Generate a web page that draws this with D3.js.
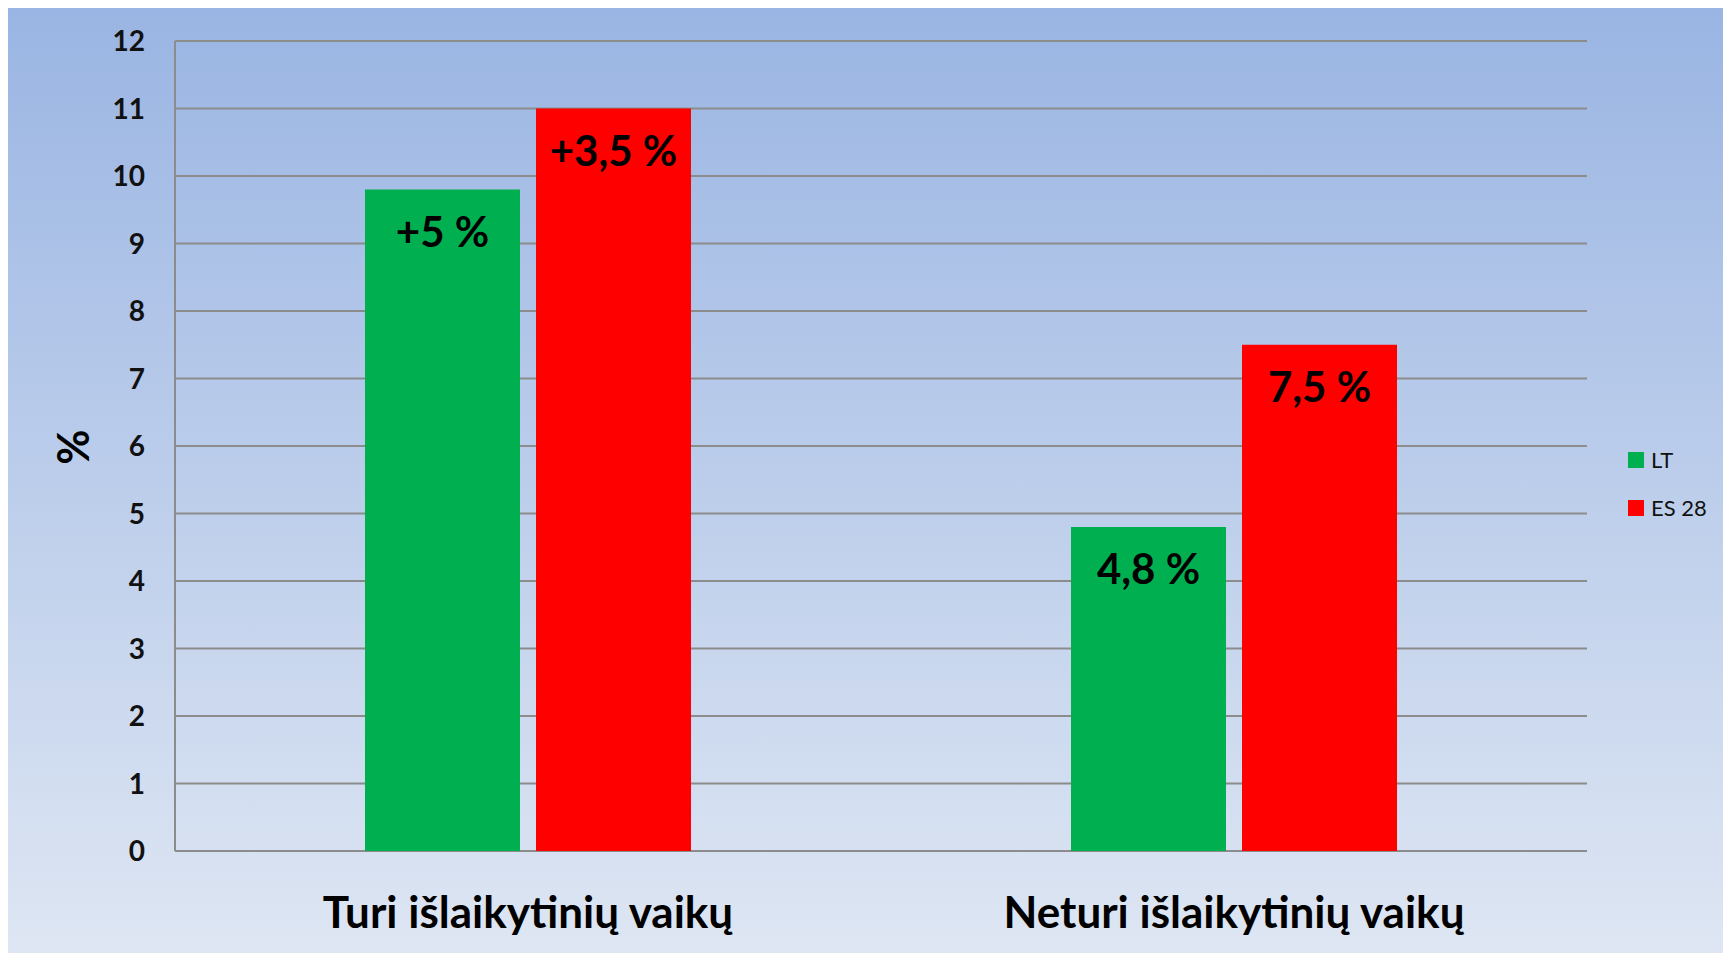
<!DOCTYPE html>
<html><head><meta charset="utf-8">
<script src="https://cdn.jsdelivr.net/npm/d3@7"></script>
<style>body{margin:0;background:#fff;overflow:hidden}svg{display:block}</style>
</head><body>
<svg id="c" width="1723" height="953"></svg>
<script>
const categories = ["Turi išlaikytinių vaikų", "Neturi išlaikytinių vaikų"];
const series = ["LT", "ES 28"];
const ltValues = [9.8, 4.8];
const es28Values = [11, 7.5];
const ltLabels = ["+5 %", "4,8 %"];
const es28Labels = ["+3,5 %", "7,5 %"];
const yTicks = [0,1,2,3,4,5,6,7,8,9,10,11,12];
const colors = {"LT": "#00B050", "ES 28": "#FF0000"};

const svg = d3.select("#c");
const W = 1723, H = 953;
const defs = svg.append("defs");
const g = defs.append("linearGradient").attr("id","bg").attr("x1",0).attr("y1",0).attr("x2",0).attr("y2",1);
g.append("stop").attr("offset","0%").attr("stop-color","#9AB5E3");
g.append("stop").attr("offset","100%").attr("stop-color","#DEE6F3");
svg.append("rect").attr("x",8).attr("y",8).attr("width",W-8).attr("height",H-8).attr("fill","url(#bg)");

const m = {left:175, right:1587, top:41, bottom:851};
const y = d3.scaleLinear().domain([0,12]).range([m.bottom, m.top]);
const x0 = d3.scaleBand().domain(categories).range([m.left, m.right]).padding(0);
const x1 = d3.scaleBand().domain(series).range([0, x0.bandwidth()]).paddingInner(0.0936).paddingOuter(1.111);

const font = "Lato, 'Open Sans', sans-serif";

// gridlines
svg.append("g").selectAll("line").data(yTicks).join("line")
  .attr("x1", m.left).attr("x2", m.right)
  .attr("y1", d=>y(d)).attr("y2", d=>y(d))
  .attr("stroke","#8C8C8C").attr("stroke-width",2);
// left axis line
svg.append("line").attr("x1",m.left).attr("x2",m.left).attr("y1",m.top).attr("y2",m.bottom)
  .attr("stroke","#8C8C8C").attr("stroke-width",2);

// tick labels
svg.append("g").selectAll("text").data(yTicks).join("text")
  .attr("x", 145).attr("y", d=>y(d)).attr("dy","0.36em")
  .attr("text-anchor","end").attr("font-family",font).attr("font-weight","bold")
  .attr("font-size",28).attr("fill","#111").text(d=>d);

// y title
svg.append("text").attr("transform","translate(89,447) rotate(-90)")
  .attr("text-anchor","middle").attr("font-family",font).attr("font-weight","bold")
  .attr("font-size",43).attr("fill","#000").text("%");

const data = [];
categories.forEach((c,i)=>{
  data.push({cat:c, s:"LT", v:ltValues[i], label:ltLabels[i]});
  data.push({cat:c, s:"ES 28", v:es28Values[i], label:es28Labels[i]});
});

const bars = svg.append("g").selectAll("g").data(data).join("g");
bars.append("rect")
  .attr("x", d=>x0(d.cat)+x1(d.s)).attr("width", x1.bandwidth())
  .attr("y", d=>y(d.v)).attr("height", d=>y(0)-y(d.v))
  .attr("fill", d=>colors[d.s]);
bars.append("text")
  .attr("x", d=>x0(d.cat)+x1(d.s)+x1.bandwidth()/2)
  .attr("y", d=>y(d.v)+57)
  .attr("text-anchor","middle").attr("font-family",font).attr("font-weight","bold")
  .attr("font-size",42).attr("fill","#000").text(d=>d.label);

// category labels
svg.append("g").selectAll("text").data(categories).join("text")
  .attr("x", d=>x0(d)+x0.bandwidth()/2).attr("y", 928)
  .attr("text-anchor","middle").attr("font-family",font).attr("font-weight","bold")
  .attr("font-size",44).attr("fill","#000").text(d=>d);

// legend
const lg = svg.append("g").selectAll("g").data(series).join("g")
  .attr("transform",(d,i)=>`translate(1628,${452+i*48})`);
lg.append("rect").attr("width",16).attr("height",16).attr("fill",d=>colors[d]);
lg.append("text").attr("x",23).attr("y",8).attr("dy","0.36em")
  .attr("font-family",font).attr("font-size",22).attr("fill","#111").text(d=>d);
</script>
</body></html>
